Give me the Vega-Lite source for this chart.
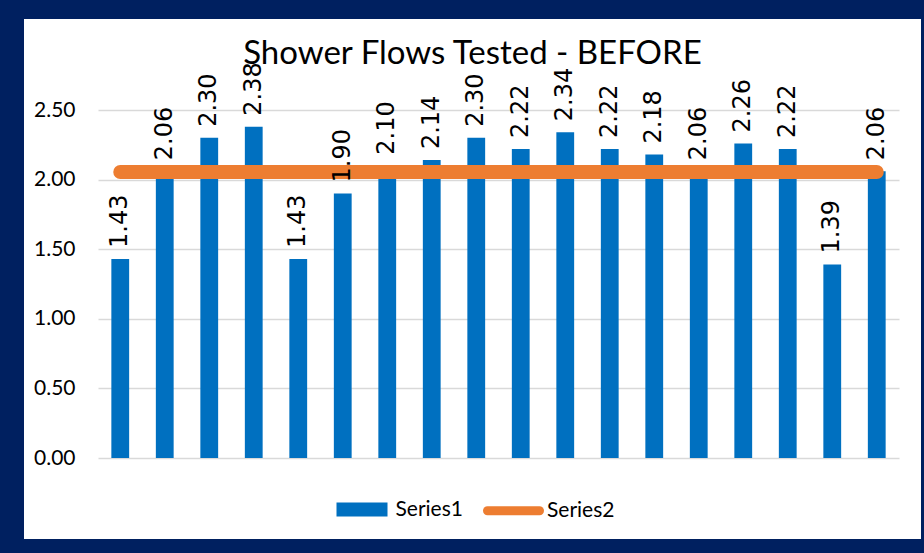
{
  "$schema": "https://vega.github.io/schema/vega-lite/v6.json",
  "width": 897,
  "height": 520,
  "autosize": {"type": "none"},
  "padding": {"left": 24, "top": 19, "right": 3, "bottom": 14},
  "background": "#002060",
  "title": {
    "text": "Shower Flows Tested - BEFORE",
    "frame": "group",
    "anchor": "middle",
    "orient": "top",
    "baseline": "alphabetic",
    "offset": -46,
    "dy": 32,
    "font": "Lato",
    "fontSize": 33,
    "fontWeight": "normal",
    "color": "#000000"
  },
  "data": {
    "values": [
      {"i": 1, "v": 1.43, "avg": 2.055},
      {"i": 2, "v": 2.06, "avg": 2.055},
      {"i": 3, "v": 2.30, "avg": 2.055},
      {"i": 4, "v": 2.38, "avg": 2.055},
      {"i": 5, "v": 1.43, "avg": 2.055},
      {"i": 6, "v": 1.90, "avg": 2.055},
      {"i": 7, "v": 2.10, "avg": 2.055},
      {"i": 8, "v": 2.14, "avg": 2.055},
      {"i": 9, "v": 2.30, "avg": 2.055},
      {"i": 10, "v": 2.22, "avg": 2.055},
      {"i": 11, "v": 2.34, "avg": 2.055},
      {"i": 12, "v": 2.22, "avg": 2.055},
      {"i": 13, "v": 2.18, "avg": 2.055},
      {"i": 14, "v": 2.06, "avg": 2.055},
      {"i": 15, "v": 2.26, "avg": 2.055},
      {"i": 16, "v": 2.22, "avg": 2.055},
      {"i": 17, "v": 1.39, "avg": 2.055},
      {"i": 18, "v": 2.06, "avg": 2.055}
    ]
  },
  "encoding": {
    "x": {
      "field": "i",
      "type": "ordinal",
      "axis": null,
      "scale": {"range": [74, 875], "paddingInner": 0.6, "paddingOuter": 0.3}
    }
  },
  "layer": [
    {
      "mark": {"type": "bar"},
      "encoding": {
        "y": {
          "field": "v",
          "type": "quantitative",
          "scale": {"domain": [0, 2.5], "range": [439, 91], "nice": false, "zero": true},
          "axis": {
            "title": null,
            "values": [0, 0.5, 1, 1.5, 2, 2.5],
            "format": ".2f",
            "ticks": false,
            "domain": false,
            "labelPadding": 0,
            "offset": -51,
            "labelFont": "Lato",
            "labelFontSize": 21,
            "labelColor": "#000000",
            "grid": true,
            "gridColor": "#D9D9D9",
            "gridWidth": 1.3
          }
        },
        "color": {
          "datum": "Series1",
          "type": "nominal",
          "scale": {"domain": ["Series1", "Series2"], "range": ["#0070C0", "#ED7D31"]},
          "legend": {
            "title": null,
            "orient": "none",
            "legendX": 303.5,
            "legendY": 456,
            "direction": "horizontal",
            "labelFont": "Lato",
            "labelFontSize": 21,
            "labelColor": "#000000",
            "labelOffset": -1,
            "columnPadding": 5.5,
            "symbolSize": 3600,
            "symbolStrokeWidth": 0,
            "encode": {
              "symbols": {
                "update": {
                  "size": {"value": 3600},
                  "shape": [
                    {"test": "datum.value === 'Series1'", "value": "M-0.7,-0.083H0.7V0.083H-0.7Z"},
                    {"value": "M-0.867,0H0.867"}
                  ],
                  "fill": [
                    {"test": "datum.value === 'Series1'", "value": "#0070C0"},
                    {"value": "transparent"}
                  ],
                  "stroke": [
                    {"test": "datum.value === 'Series1'", "value": "#0070C0"},
                    {"value": "#ED7D31"}
                  ],
                  "strokeWidth": {"value": 9},
                  "strokeCap": {"value": "round"},
                  "opacity": {"value": 1}
                }
              }
            }
          }
        }
      }
    },
    {
      "mark": {"type": "line", "strokeWidth": 14, "strokeCap": "round"},
      "encoding": {
        "y": {"field": "avg", "type": "quantitative"},
        "color": {"datum": "Series2", "type": "nominal"}
      }
    },
    {
      "mark": {
        "type": "text",
        "angle": 270,
        "align": "left",
        "baseline": "middle",
        "dx": 11,
        "font": "DejaVu Sans",
        "fontSize": 24,
        "color": "#000000"
      },
      "encoding": {
        "y": {"field": "v", "type": "quantitative"},
        "text": {"field": "v", "type": "quantitative", "format": ".2f"}
      }
    }
  ],
  "config": {
    "view": {"fill": "white", "stroke": null}
  }
}
